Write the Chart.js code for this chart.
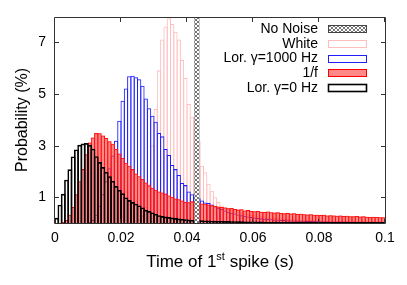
<!DOCTYPE html>
<html><head><meta charset="utf-8">
<script src="https://cdn.jsdelivr.net/npm/chart.js@4.4.0/dist/chart.umd.min.js"></script>
<style>html,body{margin:0;padding:0;background:#fff;}#wrap{width:407px;height:285px;position:relative;}</style>
</head><body><div id="wrap"><canvas id="c" width="407" height="285"></canvas></div>
<script>
// histogram bins: start of each bin in ms (bin width 1 ms)
const binStartMs = [0,1,2,3,4,5,6,7,8,9,10,11,12,13,14,15,16,17,18,19,20,21,22,23,24,25,26,27,28,29,30,31,32,33,34,35,36,37,38,39,40,41,42,43,44,45,46,47,48,49,50,51,52,53,54,55,56,57,58,59,60,61,62,63,64,65,66,67,68,69,70,71,72,73,74,75,76,77,78,79,80,81,82,83,84,85,86,87,88,89,90,91,92,93,94,95,96,97,98,99];
const BIN_MS = 1;
const seriesNames = ['No Noise', 'White', 'Lor. \u03b3=1000 Hz', '1/f', 'Lor. \u03b3=0 Hz'];

// No Noise: deterministic first spike time (s) holding 100 % of trials
const noNoiseTimes = [0.043];
const noNoiseValues = [100];

const whiteValues = [
 0,0,0,0,0,0,0,0,0,0,
 0,0,0,0,0,0,0,0,0,0,
 0,0,0.01,0.03,0.06,0.12,0.25,0.6,1.5,3.0,
 4.4,5.9,7.1,7.6,7.92,7.7,7.4,7.1,6.3,5.6,
 4.6,4.1,3.6,3.17,2.2,1.95,1.5,1.23,0.98,0.8,
 0.66,0.59,0.55,0.5,0.46,0.42,0.38,0.35,0.32,0.3,
 0.28,0.26,0.24,0.22,0.2,0.19,0.18,0.17,0.16,0.15,
 0.14,0.13,0.125,0.12,0.11,0.105,0.1,0.095,0.09,0.085,
 0.08,0.078,0.075,0.07,0.068,0.065,0.062,0.06,0.058,0.056,
 0.054,0.052,0.05,0.048,0.046,0.045,0.044,0.042,0.04,0.039];

const lor1000Values = [
 0,0,0,0,0,0,0,0,0,0,
 0.03,0.10,0.30,0.65,1.10,1.60,2.10,2.60,3.17,3.95,
 4.72,5.20,5.67,5.69,5.63,5.56,5.30,4.81,4.43,4.14,
 3.91,3.47,3.34,2.85,2.62,2.23,2.07,1.84,1.53,1.45,
 1.20,1.10,0.98,0.94,0.85,0.78,0.76,0.70,0.63,0.57,
 0.52,0.47,0.42,0.38,0.35,0.31,0.28,0.26,0.23,0.21,
 0.19,0.17,0.16,0.15,0.14,0.13,0.12,0.11,0.10,0.095,
 0.09,0.085,0.08,0.075,0.07,0.065,0.06,0.058,0.055,0.052,
 0.05,0.048,0.045,0.043,0.041,0.04,0.038,0.036,0.035,0.033,
 0.032,0.03,0.03,0.029,0.028,0.027,0.026,0.025,0.025,0.024];

const oneOverFValues = [
 0,0,0.03,0.10,0.30,0.60,1.10,1.60,2.07,2.65,
 3.10,3.30,3.47,3.46,3.37,3.28,3.15,3.05,2.85,2.68,
 2.50,2.32,2.20,2.07,1.90,1.79,1.69,1.55,1.44,1.35,
 1.27,1.20,1.16,1.12,1.05,1.00,0.93,0.90,0.85,0.80,
 0.79,0.82,0.80,0.76,0.74,0.73,0.70,0.67,0.65,0.62,
 0.60,0.58,0.55,0.56,0.52,0.50,0.51,0.47,0.48,0.45,
 0.44,0.45,0.42,0.41,0.43,0.40,0.39,0.40,0.37,0.36,
 0.37,0.35,0.36,0.33,0.34,0.32,0.31,0.32,0.30,0.30,
 0.29,0.30,0.27,0.28,0.27,0.26,0.27,0.25,0.26,0.24,
 0.24,0.25,0.23,0.24,0.22,0.21,0.22,0.21,0.20,0.20];

const lor0Values = [
 0.17,0.68,1.10,1.65,2.05,2.55,2.82,3.00,3.05,3.07,
 3.00,2.85,2.56,2.33,2.14,1.95,1.78,1.60,1.40,1.25,
 1.12,0.96,0.86,0.78,0.72,0.65,0.57,0.48,0.43,0.38,
 0.32,0.27,0.24,0.22,0.20,0.18,0.16,0.14,0.13,0.11,
 0.10,0.09,0.085,0.08,0.075,0.07,0.065,0.06,0.055,0.05,
 0.048,0.045,0.042,0.04,0.037,0.035,0.033,0.03,0.03,0.028,
 0.026,0.025,0.024,0.022,0.021,0.02,0.02,0.019,0.018,0.017,
 0.017,0.016,0.015,0.015,0.014,0.014,0.013,0.013,0.012,0.012,
 0.011,0.011,0.01,0.01,0.01,0.009,0.009,0.009,0.008,0.008,
 0.008,0.007,0.007,0.007,0.007,0.006,0.006,0.006,0.006,0.005];

const xTickValues = [0, 0.02, 0.04, 0.06, 0.08, 0.1];
const xTickLabels = ['0', '0.02', '0.04', '0.06', '0.08', '0.1'];
const yTickValues = [1, 3, 5, 7];
const yTickLabels = ['1', '3', '5', '7'];
const xTitle = ['Time of 1', 'st', ' spike (s)'];
const yTitle = 'Probability (%)';

const FONT = '"Liberation Sans", Arial, sans-serif';
const canvas = document.getElementById('c');
const ctx = canvas.getContext('2d');

function makeHatch() {
  const c = document.createElement('canvas');
  c.width = 4; c.height = 4;
  const g = c.getContext('2d');
  g.fillStyle = '#fff'; g.fillRect(0, 0, 4, 4);
  g.strokeStyle = '#666'; g.lineWidth = 0.9;
  g.beginPath(); g.moveTo(0, 0); g.lineTo(4, 4); g.moveTo(4, 0); g.lineTo(0, 4); g.stroke();
  return ctx.createPattern(c, 'repeat');
}
const hatch = makeHatch();

const toPts = (vals) => vals.map((v, i) => ({x: (binStartMs[i] + BIN_MS / 2) / 1000, y: v}));

// line = visible outline width (centred on the bar edge)
const styles = [
  {bg: hatch, border: '#444', line: 1.2},
  {bg: 'rgba(255,255,255,0)', border: 'rgb(255,190,190)', line: 1},
  {bg: 'rgba(255,255,255,0)', border: '#2020ff', line: 1},
  {bg: 'rgba(255,40,40,0.55)', border: '#ff0000', line: 1},
  {bg: 'rgba(255,255,255,0)', border: '#000000', line: 1.6}
];

const datasets = [
  {label: seriesNames[0], data: noNoiseTimes.map((t, i) => ({x: t, y: noNoiseValues[i]})), order: 0, xAxisID: 'x2', barThickness: 4},
  {label: seriesNames[1], data: toPts(whiteValues), order: 4},
  {label: seriesNames[2], data: toPts(lor1000Values), order: 3},
  {label: seriesNames[3], data: toPts(oneOverFValues), order: 2},
  {label: seriesNames[4], data: toPts(lor0Values), order: 1}
].map((d, i) => Object.assign({
  xAxisID: 'x',
  backgroundColor: styles[i].bg,
  borderColor: styles[i].border,
  borderWidth: 0.02,
  inflateAmount: styles[i].line / 2,
  borderSkipped: 'start',
  grouped: false,
  barPercentage: 1,
  categoryPercentage: 1
}, d));

const framePlugin = {
  id: 'frame',
  afterDraw(chart) {
    const c = chart.ctx;
    const {left, right, top, bottom} = chart.chartArea;
    const xs = chart.scales.x, ys = chart.scales.y;
    c.save();
    c.strokeStyle = '#333';
    c.lineWidth = 1;
    c.beginPath();
    c.rect(left - 0.5, top - 0.5, right - left + 1, bottom - top + 1);
    c.stroke();
    c.beginPath();
    xTickValues.forEach(v => {
      const px = Math.round(xs.getPixelForValue(v)) - 0.5;
      c.moveTo(px, bottom); c.lineTo(px, bottom - 4);
      c.moveTo(px, top); c.lineTo(px, top + 4);
    });
    yTickValues.forEach(v => {
      const py = Math.round(ys.getPixelForValue(v)) + 0.5;
      c.moveTo(left, py); c.lineTo(left + 4, py);
      c.moveTo(right, py); c.lineTo(right - 4, py);
    });
    c.stroke();

    // legend
    c.font = '14px ' + FONT;
    c.fillStyle = '#000';
    c.textAlign = 'right';
    c.textBaseline = 'middle';
    const rowY0 = 28.7, rowStep = 14.65;
    seriesNames.forEach((name, i) => {
      const y = rowY0 + i * rowStep;
      c.fillText(name, 318, y + 0.5);
      const st = styles[i];
      const bx = 328.5, bw = 38, bh = 7, by = Math.round(y - bh / 2) + 0.5;
      c.fillStyle = '#fff';
      c.fillRect(bx, by, bw, bh);
      c.fillStyle = st.bg;
      c.fillRect(bx, by, bw, bh);
      c.strokeStyle = st.border;
      c.lineWidth = i === 4 ? 1.6 : 1;
      c.strokeRect(bx, by, bw, bh);
      c.fillStyle = '#000';
    });

    // x title with superscript
    c.textAlign = 'left';
    c.textBaseline = 'alphabetic';
    const mainF = '17px ' + FONT, supF = '11px ' + FONT;
    c.font = mainF; const w1 = c.measureText(xTitle[0]).width; const w3 = c.measureText(xTitle[2]).width;
    c.font = supF; const w2 = c.measureText(xTitle[1]).width;
    const total = w1 + w2 + w3;
    let x0 = 220 - total / 2;
    const base = 266.5;
    c.font = mainF; c.fillText(xTitle[0], x0, base);
    c.font = supF; c.fillText(xTitle[1], x0 + w1, base - 7);
    c.font = mainF; c.fillText(xTitle[2], x0 + w1 + w2, base);

    // y title
    c.save();
    c.translate(26.5, 120);
    c.rotate(-Math.PI / 2);
    c.textAlign = 'center';
    c.font = '16px ' + FONT;
    c.fillText(yTitle, 0, 0);
    c.restore();
    c.restore();
  }
};

new Chart(ctx, {
  type: 'bar',
  data: {datasets},
  options: {
    responsive: false,
    animation: false,
    events: [],
    layout: {padding: {top: 18, right: 22, left: 0, bottom: 0}},
    plugins: {legend: {display: false}, tooltip: {enabled: false}},
    scales: {
      x: {
        type: 'linear', min: 0, max: 0.1, offset: false,
        grid: {display: false, drawTicks: false},
        border: {display: false},
        afterBuildTicks: s => { s.ticks = xTickValues.map(v => ({value: v})); },
        afterFit: s => { s.height = 62; },
        ticks: {
          autoSkip: false, maxRotation: 0, padding: 7, color: '#000',
          font: {family: FONT, size: 14},
          callback: (v, i) => xTickLabels[i]
        }
      },
      x2: {
        type: 'linear', min: 0, max: 0.1, offset: false, display: false
      },
      y: {
        type: 'linear', min: 0, max: 7.95,
        grid: {display: false, drawTicks: false},
        border: {display: false},
        afterBuildTicks: s => { s.ticks = yTickValues.map(v => ({value: v})); },
        afterFit: s => { s.width = 55; },
        ticks: {
          autoSkip: false, padding: 9, color: '#000',
          font: {family: FONT, size: 14},
          callback: (v, i) => yTickLabels[i]
        }
      }
    }
  },
  plugins: [framePlugin]
});
</script>
</body></html>
